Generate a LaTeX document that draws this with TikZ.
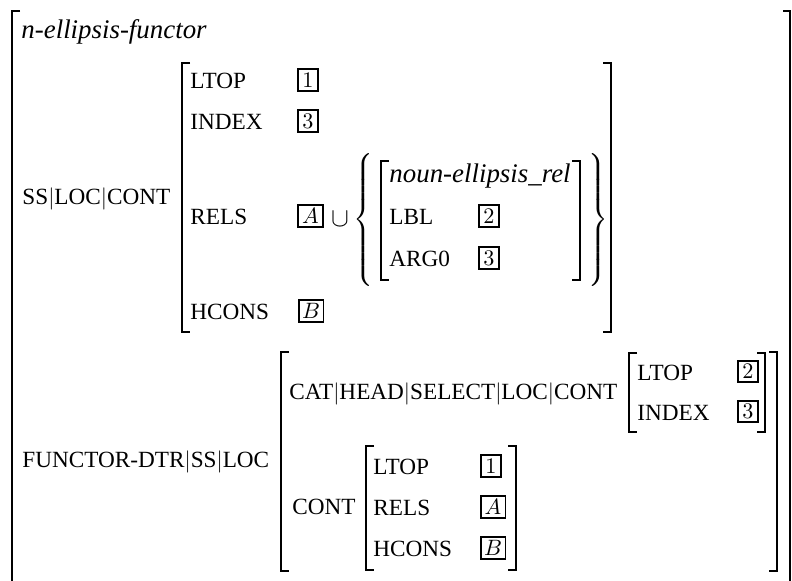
\documentclass[tikz,border=0pt]{standalone}
\usepackage[no-math]{fontspec}
\setmainfont{Liberation Serif}
\begin{document}
\begin{tikzpicture}[x=0.45pt,y=-0.45pt,
  lbl/.style={anchor=base west,inner sep=0pt,font=\fontsize{10.45}{12}\selectfont},
  ital/.style={lbl,font=\fontsize{12.1}{14}\selectfont\itshape},
  tag/.style={draw,line width=0.85pt,inner sep=0pt,minimum width=8.8pt,minimum height=9.8pt},
  tagw/.style={tag,minimum width=11.2pt},
  brk/.style={line width=0.9pt,line join=miter,line cap=butt},
  brace/.style={inner sep=0pt}]
\useasboundingbox (0,0) rectangle (792,581);
% outer bracket
\draw[brk] (20,11) -- (12,11) -- (12,600);
\draw[brk] (783,11) -- (790,11) -- (790,600);
\node[ital] (type) at (21,39) {n-ellipsis-functor};
% SS|LOC|CONT
\node[lbl] (ssloccont) at (22,204.5) {SS$|$LOC$|$CONT};
\draw[brk] (190,63) -- (182,63) -- (182,332) -- (190,332);
\draw[brk] (603,63) -- (611,63) -- (611,332) -- (603,332);
\node[lbl] (ltop1) at (190,89) {LTOP};
\node[lbl] (index1) at (190,130) {INDEX};
\node[lbl] (rels1) at (190,225) {RELS};
\node[lbl] (hcons1) at (190,320) {HCONS};
\node[tag] (t1a) at (308,80) {$1$};
\node[tag] (t3a) at (308,121) {$3$};
\node[tagw] (tAa) at (310.5,216) {$A$};
\node[tagw] (tBa) at (311,311) {$B$};
\node[inner sep=0pt,font=\fontsize{13}{15}\selectfont] (cup) at (340,219) {$\cup$};
\node[brace] (lbrace) at (365,220) {$\delimiterfactor=1000\delimitershortfall=0pt\left\{\vrule height 30.5pt depth 25.5pt width 0pt\right.$};
\node[brace] (rbrace) at (597,220) {$\delimiterfactor=1000\delimitershortfall=0pt\left.\vrule height 30.5pt depth 25.5pt width 0pt\right\}$};
\draw[brk] (389,161) -- (381,161) -- (381,280) -- (389,280);
\draw[brk] (572,161) -- (580,161) -- (580,280) -- (572,280);
\node[ital] (reltype) at (389,183) {noun-ellipsis\_rel};
\node[lbl] (lbl) at (389,225) {LBL};
\node[lbl] (arg0) at (389,267) {ARG0};
\node[tag] (t2b) at (489,216) {$2$};
\node[tag] (t3b) at (489,258) {$3$};
% FUNCTOR-DTR
\node[lbl] (fdtr) at (22,468) {FUNCTOR-DTR$|$SS$|$LOC};
\draw[brk] (289,352) -- (281,352) -- (281,571) -- (289,571);
\draw[brk] (769,352) -- (777,352) -- (777,571) -- (769,571);
\node[lbl] (cathead) at (289,400) {CAT$|$HEAD$|$SELECT$|$LOC$|$CONT};
\draw[brk] (637,353) -- (629,353) -- (629,432) -- (637,432);
\draw[brk] (757,353) -- (765,353) -- (765,432) -- (757,432);
\node[lbl] (ltop2) at (637,381) {LTOP};
\node[lbl] (index2) at (637,421) {INDEX};
\node[tag] (t2c) at (748,371.5) {$2$};
\node[tag] (t3c) at (748,411.5) {$3$};
\node[lbl] (cont) at (292,515) {CONT};
\draw[brk] (374,446) -- (366,446) -- (366,570) -- (374,570);
\draw[brk] (508,446) -- (516,446) -- (516,570) -- (508,570);
\node[lbl] (ltop3) at (373,475) {LTOP};
\node[lbl] (rels3) at (373,516) {RELS};
\node[lbl] (hcons3) at (373,557) {HCONS};
\node[tag] (t1c) at (491,466) {$1$};
\node[tagw] (tAc) at (493,507) {$A$};
\node[tagw] (tBc) at (493,548) {$B$};
\end{tikzpicture}
\end{document}
